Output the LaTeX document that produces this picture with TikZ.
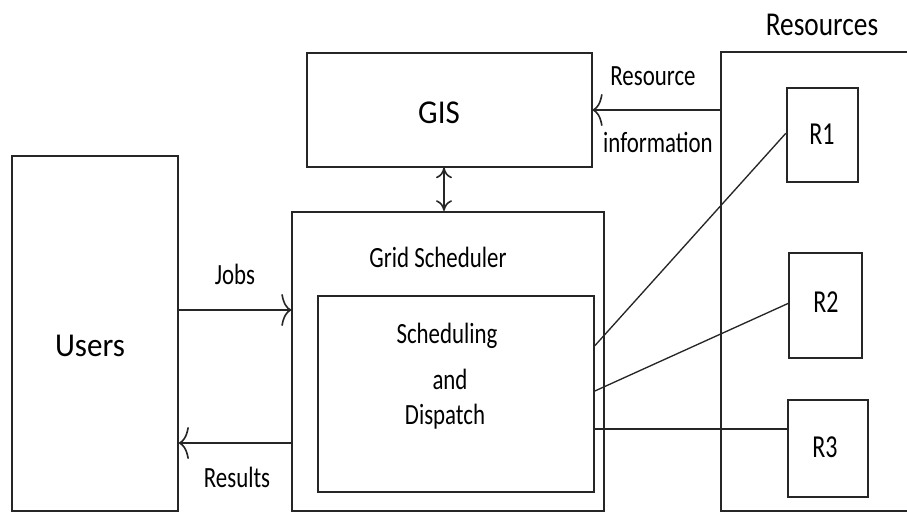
\documentclass[tikz,border=0pt]{standalone}
\usepackage{fontspec}
\setmainfont{Carlito}
\usepackage{graphicx}
\usetikzlibrary{arrows.meta}
\newcommand\smt[1]{\scalebox{0.78}[1]{\fontsize{22}{24}\selectfont #1}}
\newcommand\bgt[1]{\scalebox{0.93}[1]{\fontsize{25}{28}\selectfont #1}}
\newcommand\hdt[1]{\scalebox{0.82}[1]{\fontsize{25}{28}\selectfont #1}}
\newcommand\rt[1]{\scalebox{0.75}[1]{\fontsize{24}{26}\selectfont #1}}
\begin{document}
\begin{tikzpicture}[x=0.75pt,y=-0.75pt,
  box/.style={draw=black!85,line width=1.35pt,rectangle,inner sep=0pt,anchor=center},
  lbl/.style={inner sep=0pt,anchor=base,text=black},
  harrow/.style={draw=black!85,line width=1.2pt,-{To[length=7.5pt,width=24pt]}},
  varrow/.style={draw=black!85,line width=1.2pt,{To[length=8pt,width=12pt]}-{To[length=8pt,width=12pt]}},
  link/.style={draw=black!85,line width=1pt}]
\clip (0,0) rectangle (907,512);
\fill[white] (0,0) rectangle (907,512);
% boxes
\node[box,minimum width=124.5pt,minimum height=266.25pt] (users) at (95,333.2) {};
\node[box,minimum width=213.3pt,minimum height=85pt] (gis) at (449.5,110) {};
\node[box,minimum width=234pt,minimum height=224.25pt] (grid) at (448.2,361.3) {};
\node[box,minimum width=207.2pt,minimum height=147.45pt] (inner) at (455.8,394) {};
\node[box,minimum width=163.5pt,minimum height=344.25pt] (res) at (830,281.5) {};
\node[box,minimum width=53.25pt,minimum height=71pt] (r1) at (822.2,135) {};
\node[box,minimum width=54.75pt,minimum height=78.75pt] (r2) at (825.8,305.2) {};
\node[box,minimum width=60pt,minimum height=73pt] (r3) at (828.3,448.6) {};
% labels
\node[lbl] (tusers) at (90,356) {\bgt{Users}};
\node[lbl] (tgis) at (439,123) {\bgt{GIS}};
\node[lbl] (tres) at (822,35) {\hdt{Resources}};
\node[lbl] (tresource) at (653,85) {\smt{Resource}};
\node[lbl] (tinfo) at (658,152) {\smt{information}};
\node[lbl] (tjobs) at (235,284) {\smt{Jobs}};
\node[lbl] (tresults) at (237,487) {\smt{Results}};
\node[lbl] (tgrid) at (438,267) {\smt{Grid Scheduler}};
\node[lbl] (tsched) at (447,343) {\smt{Scheduling}};
\node[lbl] (tand) at (450,389) {\smt{and}};
\node[lbl] (tdisp) at (445,424) {\smt{Dispatch}};
\node[lbl] (tr1) at (822,144) {\rt{R1}};
\node[lbl] (tr2) at (826,312) {\rt{R2}};
\node[lbl] (tr3) at (825,457) {\rt{R3}};
% helper coordinates
\coordinate (yj) at (0,310);
\coordinate (yr) at (0,443);
\coordinate (yi) at (0,110);
\coordinate (xd) at (444,0);
\coordinate (ya) at (0,345.7);
\coordinate (yb) at (0,391);
\coordinate (yc) at (0,429);
\coordinate (ea) at (0,133.3);
\coordinate (eb) at (0,303.3);
% connectors
\draw[harrow] (users.east |- yj) -- (grid.west |- yj);
\draw[harrow] (grid.west |- yr) -- (users.east |- yr);
\draw[harrow] (res.west |- yi) -- (gis.east |- yi);
\draw[varrow] (gis.south -| xd) -- (grid.north -| xd);
\draw[link] (inner.east |- ya) -- (r1.west |- ea);
\draw[link] (inner.east |- yb) -- (r2.west |- eb);
\draw[link,line width=1.3pt] (inner.east |- yc) -- (r3.west |- yc);
\end{tikzpicture}
\end{document}
